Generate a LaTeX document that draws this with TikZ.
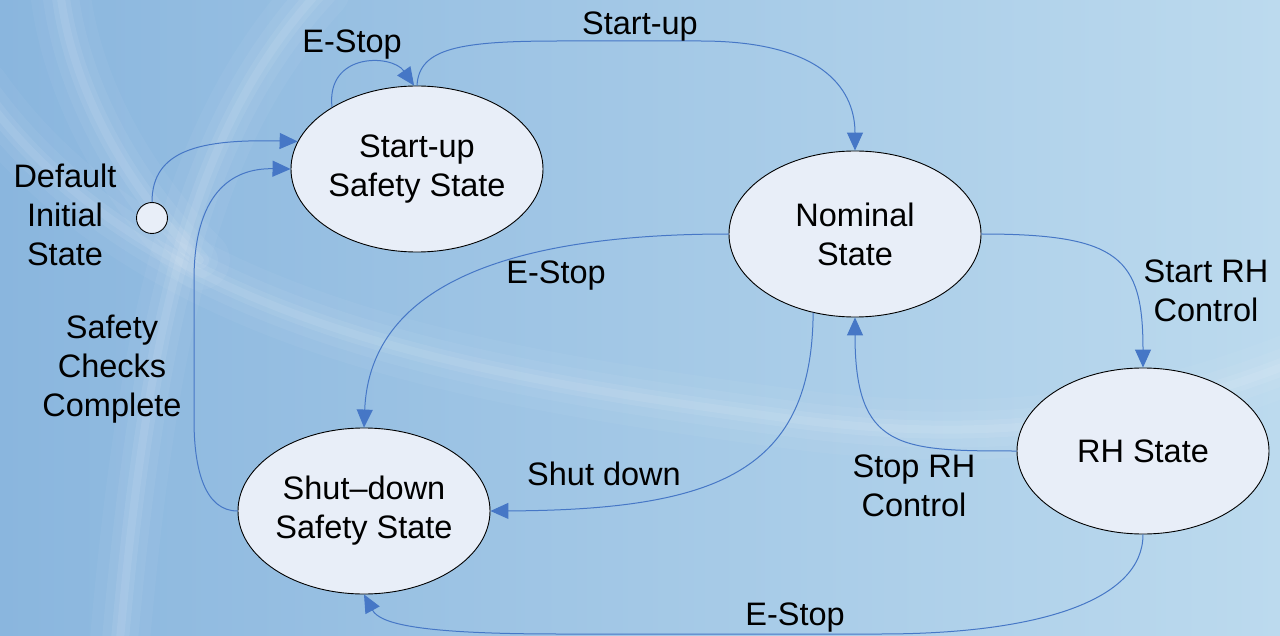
\documentclass[tikz,border=0pt]{standalone}
\usepackage{fontspec}
\setmainfont{Liberation Sans}
\usetikzlibrary{shapes.geometric,arrows.meta}

\definecolor{bgleft}{HTML}{8AB6DE}
\definecolor{bgright}{HTML}{BCDAEE}
\definecolor{statefill}{HTML}{E8EEF8}
\definecolor{wire}{HTML}{4677C6}

\tikzset{
  state/.style={ellipse, draw=black, line width=0.9pt, fill=statefill,
    minimum width=252pt, minimum height=166pt, inner sep=0pt, align=center,
    font=\fontsize{32.5}{39}\selectfont},
  startdot/.style={circle, draw=black, line width=0.9pt, fill=statefill,
    minimum size=31pt, inner sep=0pt},
  lbl/.style={align=center, inner sep=0pt, font=\fontsize{32.5}{39}\selectfont},
  trans/.style={draw=wire, line width=1pt,
    -{Triangle[length=18pt,width=16pt]}},
  swoosh/.style={white, line cap=round}
}

\begin{document}
\begin{tikzpicture}[x=1pt,y=-1pt]
  % backdrop
  \useasboundingbox (0,0) rectangle (1280,636);
  \shade[left color=bgleft, right color=bgright] (0,0) rectangle (1280,636);
  \begin{scope}
    \clip (0,0) rectangle (1280,636);
    \foreach \w/\o in {60/0.04,36/0.05,18/0.07,8/0.08}{
      \draw[swoosh, line width=\w pt, opacity=\o]
        (-20,90) .. controls (150,330) and (500,380) .. (800,420)
        .. controls (1000,445) and (1150,420) .. (1300,360);
      \draw[swoosh, line width=\w pt, opacity=\o]
        (320,-10) .. controls (200,120) and (150,300) .. (120,640);
      \draw[swoosh, line width=\w pt, opacity=\o]
        (60,-10) .. controls (70,80) and (120,180) .. (200,260);
    }
  \end{scope}

  % states
  \node[state] (su)  at (417,169) {Start-up\\Safety State};
  \node[state] (nom) at (855,234) {Nominal\\State};
  \node[state] (rh)  at (1143,451) {RH State};
  \node[state] (sd)  at (364,511) {Shut–down\\Safety State};
  \node[startdot] (init) at (152,218) {};

  % corner points of the routed connectors
  \coordinate (sutop1) at (560,41);
  \coordinate (sutop2) at (700,41);
  \coordinate (lft1) at (194,420);
  \coordinate (lft2) at (194,280);
  \coordinate (bot1) at (880,634);
  \coordinate (bot2) at (560,634);

  % transitions
  \draw[trans] (init.north) .. controls (152,150) and (200,139) .. (su.167);
  \draw[trans] (sd.west) .. controls (205,511) and (194,470) .. (lft1)
    -- (lft2) .. controls (194,195) and (230,168) .. (su.west);
  \draw[trans] (su.144) .. controls (326,52) and (392,54) .. (su.92);
  \draw[trans] (su.north) .. controls (419,48) and (460,41) .. (sutop1)
    -- (sutop2) .. controls (830,41) and (855,95) .. (nom.north);
  \draw[trans] (nom.west) .. controls (520,234) and (370,280) .. (sd.north);
  \draw[trans] (nom.242) .. controls (812,470) and (720,510) .. (sd.east);
  \draw[trans] (nom.east) .. controls (1120,234) and (1143,258) .. (rh.north);
  \draw[trans] (rh.west) .. controls (900,451) and (855,450) .. (nom.south);
  \draw[trans] (rh.south) .. controls (1143,600) and (1040,634) .. (bot1)
    -- (bot2) .. controls (420,634) and (380,624) .. (sd.south);

  % labels
  \node[lbl] (l1) at (352,45) {E-Stop};
  \node[lbl] (l2) at (640,27) {Start-up};
  \node[lbl] (l3) at (556,276) {E-Stop};
  \node[lbl] (l4) at (604,474) {Shut down};
  \node[lbl] (l5) at (1206,291) {Start RH\\Control};
  \node[lbl] (l6) at (914,486) {Stop RH\\Control};
  \node[lbl] (l7) at (795,618) {E-Stop};
  \node[lbl] (l8) at (65,215) {Default\\Initial\\State};
  \node[lbl] (l9) at (112,369) {Safety\\Checks\\Complete};
\end{tikzpicture}
\end{document}
